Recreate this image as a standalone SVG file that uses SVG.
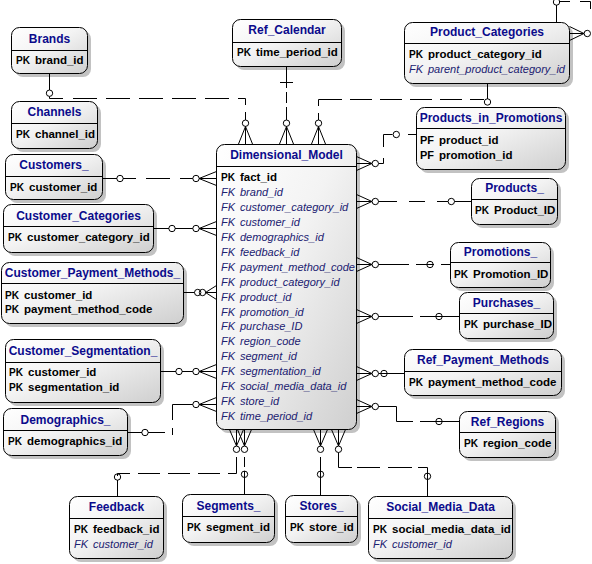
<svg xmlns="http://www.w3.org/2000/svg" width="592" height="564" viewBox="0 0 592 564">
<defs>
<linearGradient id="g" x1="0" y1="0" x2="1" y2="1">
<stop offset="0" stop-color="#ffffff"/>
<stop offset="0.45" stop-color="#f3f3f3"/>
<stop offset="1" stop-color="#cfcfcf"/>
</linearGradient>
</defs>
<style>
.sh{fill:#c2c2c2}
.box{fill:url(#g);stroke:#000;stroke-width:1}
.sep{stroke:#000;stroke-width:1;fill:none}
.t{font-family:"Liberation Sans",Arial,sans-serif;font-weight:bold;font-size:12px;fill:#0b0b8c;text-anchor:middle}
.pk{font-family:"Liberation Sans",Arial,sans-serif;font-weight:bold;font-size:11.5px;fill:#000}
.fk{font-family:"Liberation Sans",Arial,sans-serif;font-style:italic;font-size:11px;fill:#202070}
.ln{stroke:#000;stroke-width:1;fill:none}
.c{fill:#fff;stroke:#000;stroke-width:1}
.o{fill:none;stroke:#000;stroke-width:1}
</style>
<rect width="592" height="564" fill="#fff"/>

<g id="brands">
<rect class="sh" x="15" y="31" width="76" height="46" rx="8"/>
<rect class="box" x="11.5" y="27.5" width="76" height="46" rx="8"/>
<path class="sep" d="M11.5 50.5H87.5"/>
<text class="t" x="49.5" y="43.3">Brands</text>
<text class="pk" x="16" y="64" textLength="14" lengthAdjust="spacingAndGlyphs">PK</text><text class="pk" x="35" y="64">brand_id</text>
</g>

<g id="ref_calendar">
<rect class="sh" x="236" y="23" width="109" height="47" rx="8"/>
<rect class="box" x="232.5" y="19.5" width="109" height="47" rx="8"/>
<path class="sep" d="M232.5 42.5H341.5"/>
<text class="t" x="287" y="34.3">Ref_Calendar</text>
<text class="pk" x="237" y="56" textLength="14" lengthAdjust="spacingAndGlyphs">PK</text><text class="pk" x="256" y="56">time_period_id</text>
</g>

<g id="channels">
<rect class="sh" x="15" y="105" width="86" height="47" rx="8"/>
<rect class="box" x="11.5" y="101.5" width="86" height="47" rx="8"/>
<path class="sep" d="M11.5 123.5H97.5"/>
<text class="t" x="54.5" y="116.3">Channels</text>
<text class="pk" x="16" y="138" textLength="14" lengthAdjust="spacingAndGlyphs">PK</text><text class="pk" x="35" y="138">channel_id</text>
</g>

<g id="customers">
<rect class="sh" x="9" y="158" width="97" height="45" rx="8"/>
<rect class="box" x="5.5" y="154.5" width="97" height="45" rx="8"/>
<path class="sep" d="M5.5 176.5H102.5"/>
<text class="t" x="54" y="169.3">Customers_</text>
<text class="pk" x="10" y="191" textLength="14" lengthAdjust="spacingAndGlyphs">PK</text><text class="pk" x="29" y="191">customer_id</text>
</g>

<g id="customer_categories">
<rect class="sh" x="7" y="208" width="150" height="48" rx="8"/>
<rect class="box" x="3.5" y="204.5" width="150" height="48" rx="8"/>
<path class="sep" d="M3.5 226.5H153.5"/>
<text class="t" x="78.5" y="220.3">Customer_Categories</text>
<text class="pk" x="8" y="241" textLength="14" lengthAdjust="spacingAndGlyphs">PK</text><text class="pk" x="27" y="241">customer_category_id</text>
</g>

<g id="customer_payment_methods">
<rect class="sh" x="5" y="266" width="182" height="61" rx="8"/>
<rect class="box" x="1.5" y="262.5" width="182" height="61" rx="8"/>
<path class="sep" d="M1.5 283.5H183.5"/>
<text class="t" x="92.5" y="277.3">Customer_Payment_Methods_</text>
<text class="pk" x="5" y="299" textLength="14" lengthAdjust="spacingAndGlyphs">PK</text><text class="pk" x="24" y="299">customer_id</text>
<text class="pk" x="5" y="313" textLength="14" lengthAdjust="spacingAndGlyphs">PK</text><text class="pk" x="24" y="313">payment_method_code</text>
</g>

<g id="customer_segmentation">
<rect class="sh" x="9" y="343" width="155" height="63" rx="8"/>
<rect class="box" x="5.5" y="339.5" width="155" height="63" rx="8"/>
<path class="sep" d="M5.5 362.5H160.5"/>
<text class="t" x="83" y="355.3">Customer_Segmentation_</text>
<text class="pk" x="9" y="376" textLength="14" lengthAdjust="spacingAndGlyphs">PK</text><text class="pk" x="28" y="376">customer_id</text>
<text class="pk" x="9" y="391" textLength="14" lengthAdjust="spacingAndGlyphs">PK</text><text class="pk" x="28" y="391">segmentation_id</text>
</g>

<g id="demographics">
<rect class="sh" x="7" y="412" width="124" height="47" rx="8"/>
<rect class="box" x="3.5" y="408.5" width="124" height="47" rx="8"/>
<path class="sep" d="M3.5 430.5H127.5"/>
<text class="t" x="65.5" y="424.3">Demographics_</text>
<text class="pk" x="8" y="445" textLength="14" lengthAdjust="spacingAndGlyphs">PK</text><text class="pk" x="27" y="445">demographics_id</text>
</g>

<g id="feedback">
<rect class="sh" x="73" y="500" width="94" height="62" rx="8"/>
<rect class="box" x="69.5" y="496.5" width="94" height="62" rx="8"/>
<path class="sep" d="M69.5 518.5H163.5"/>
<text class="t" x="116.5" y="511.3">Feedback</text>
<text class="pk" x="74" y="533" textLength="14" lengthAdjust="spacingAndGlyphs">PK</text><text class="pk" x="93" y="533">feedback_id</text>
<text class="fk" x="74" y="548">FK</text><text class="fk" x="93" y="548">customer_id</text>
</g>

<g id="segments">
<rect class="sh" x="186" y="498" width="92" height="48" rx="8"/>
<rect class="box" x="182.5" y="494.5" width="92" height="48" rx="8"/>
<path class="sep" d="M182.5 516.5H274.5"/>
<text class="t" x="228.5" y="510.3">Segments_</text>
<text class="pk" x="187" y="531" textLength="14" lengthAdjust="spacingAndGlyphs">PK</text><text class="pk" x="206" y="531">segment_id</text>
</g>

<g id="stores">
<rect class="sh" x="289" y="499" width="72" height="47" rx="8"/>
<rect class="box" x="285.5" y="495.5" width="72" height="47" rx="8"/>
<path class="sep" d="M285.5 516.5H357.5"/>
<text class="t" x="321.5" y="510.3">Stores_</text>
<text class="pk" x="290" y="531" textLength="14" lengthAdjust="spacingAndGlyphs">PK</text><text class="pk" x="309" y="531">store_id</text>
</g>

<g id="social_media_data">
<rect class="sh" x="372" y="500" width="144" height="62" rx="8"/>
<rect class="box" x="368.5" y="496.5" width="144" height="62" rx="8"/>
<path class="sep" d="M368.5 518.5H512.5"/>
<text class="t" x="440.5" y="511.3">Social_Media_Data</text>
<text class="pk" x="373" y="533" textLength="14" lengthAdjust="spacingAndGlyphs">PK</text><text class="pk" x="392" y="533">social_media_data_id</text>
<text class="fk" x="373" y="548">FK</text><text class="fk" x="392" y="548">customer_id</text>
</g>

<g id="ref_regions">
<rect class="sh" x="463" y="415" width="96" height="46" rx="8"/>
<rect class="box" x="459.5" y="411.5" width="96" height="46" rx="8"/>
<path class="sep" d="M459.5 432.5H555.5"/>
<text class="t" x="507.5" y="426.3">Ref_Regions</text>
<text class="pk" x="464" y="447" textLength="14" lengthAdjust="spacingAndGlyphs">PK</text><text class="pk" x="483" y="447">region_code</text>
</g>

<g id="ref_payment_methods">
<rect class="sh" x="408" y="353" width="157" height="46" rx="8"/>
<rect class="box" x="404.5" y="349.5" width="157" height="46" rx="8"/>
<path class="sep" d="M404.5 371.5H561.5"/>
<text class="t" x="483" y="364.3">Ref_Payment_Methods</text>
<text class="pk" x="409" y="386" textLength="14" lengthAdjust="spacingAndGlyphs">PK</text><text class="pk" x="428" y="386">payment_method_code</text>
</g>

<g id="purchases">
<rect class="sh" x="463" y="296" width="94" height="46" rx="8"/>
<rect class="box" x="459.5" y="292.5" width="94" height="46" rx="8"/>
<path class="sep" d="M459.5 313.5H553.5"/>
<text class="t" x="506.5" y="307.3">Purchases_</text>
<text class="pk" x="464" y="328" textLength="14" lengthAdjust="spacingAndGlyphs">PK</text><text class="pk" x="483" y="328">purchase_ID</text>
</g>

<g id="promotions">
<rect class="sh" x="454" y="246" width="100" height="45" rx="8"/>
<rect class="box" x="450.5" y="242.5" width="100" height="45" rx="8"/>
<path class="sep" d="M450.5 262.5H550.5"/>
<text class="t" x="500.5" y="256.3">Promotions_</text>
<text class="pk" x="454" y="278" textLength="14" lengthAdjust="spacingAndGlyphs">PK</text><text class="pk" x="473" y="278">Promotion_ID</text>
</g>

<g id="products">
<rect class="sh" x="475" y="182" width="86" height="46" rx="8"/>
<rect class="box" x="471.5" y="178.5" width="86" height="46" rx="8"/>
<path class="sep" d="M471.5 199.5H557.5"/>
<text class="t" x="514.5" y="192.3">Products_</text>
<text class="pk" x="475" y="214" textLength="14" lengthAdjust="spacingAndGlyphs">PK</text><text class="pk" x="494" y="214">Product_ID</text>
</g>

<g id="products_in_promotions">
<rect class="sh" x="420" y="111" width="149" height="62" rx="8"/>
<rect class="box" x="416.5" y="107.5" width="149" height="62" rx="8"/>
<path class="sep" d="M416.5 128.5H565.5"/>
<text class="t" x="491" y="122.3">Products_in_Promotions</text>
<text class="pk" x="420" y="144" textLength="14" lengthAdjust="spacingAndGlyphs">PF</text><text class="pk" x="439" y="144">product_id</text>
<text class="pk" x="420" y="159" textLength="14" lengthAdjust="spacingAndGlyphs">PF</text><text class="pk" x="439" y="159">promotion_id</text>
</g>

<g id="product_categories">
<rect class="sh" x="408" y="26" width="165" height="61" rx="8"/>
<rect class="box" x="404.5" y="22.5" width="165" height="61" rx="8"/>
<path class="sep" d="M404.5 43.5H569.5"/>
<text class="t" x="487" y="36.3">Product_Categories</text>
<text class="pk" x="409" y="58" textLength="14" lengthAdjust="spacingAndGlyphs">PK</text><text class="pk" x="428" y="58">product_category_id</text>
<text class="fk" x="409" y="73">FK</text><text class="fk" x="428" y="73">parent_product_category_id</text>
</g>

<g id="dimensional_model">
<rect class="sh" x="220" y="148" width="140" height="285" rx="8"/>
<rect class="box" x="216.5" y="144.5" width="140" height="285" rx="8"/>
<path class="sep" d="M216.5 166.5H356.5"/>
<text class="t" x="286.5" y="159.3">Dimensional_Model</text>
<text class="pk" x="221" y="181" textLength="14" lengthAdjust="spacingAndGlyphs">PK</text><text class="pk" x="240" y="181">fact_id</text>
<text class="fk" x="221" y="196">FK</text><text class="fk" x="240" y="196">brand_id</text>
<text class="fk" x="221" y="211">FK</text><text class="fk" x="240" y="211">customer_category_id</text>
<text class="fk" x="221" y="226">FK</text><text class="fk" x="240" y="226">customer_id</text>
<text class="fk" x="221" y="241">FK</text><text class="fk" x="240" y="241">demographics_id</text>
<text class="fk" x="221" y="256">FK</text><text class="fk" x="240" y="256">feedback_id</text>
<text class="fk" x="221" y="271">FK</text><text class="fk" x="240" y="271">payment_method_code</text>
<text class="fk" x="221" y="286">FK</text><text class="fk" x="240" y="286">product_category_id</text>
<text class="fk" x="221" y="300.5">FK</text><text class="fk" x="240" y="300.5">product_id</text>
<text class="fk" x="221" y="315.5">FK</text><text class="fk" x="240" y="315.5">promotion_id</text>
<text class="fk" x="221" y="330.4">FK</text><text class="fk" x="240" y="330.4">purchase_ID</text>
<text class="fk" x="221" y="345.3">FK</text><text class="fk" x="240" y="345.3">region_code</text>
<text class="fk" x="221" y="360.3">FK</text><text class="fk" x="240" y="360.3">segment_id</text>
<text class="fk" x="221" y="375.2">FK</text><text class="fk" x="240" y="375.2">segmentation_id</text>
<text class="fk" x="221" y="390.2">FK</text><text class="fk" x="240" y="390.2">social_media_data_id</text>
<text class="fk" x="221" y="405.1">FK</text><text class="fk" x="240" y="405.1">store_id</text>
<text class="fk" x="221" y="420">FK</text><text class="fk" x="240" y="420">time_period_id</text>
</g>

<g id="connectors">
<!-- Brands -->
<path class="ln" d="M49.5 73.5V90"/>
<circle class="o" cx="49.5" cy="93.2" r="3.2"/>
<path class="ln" d="M49.5 96.5V98.5H63 M73 98.5H97 M106 98.5H130 M139 98.5H163 M172 98.5H196 M205 98.5H229 M238 98.5H245.5V105 M245.5 112V120"/>
<circle class="c" cx="245.5" cy="123.2" r="3.2"/>
<path class="ln" d="M238.5 144L245.5 126.5L252.5 144M245.5 126.5V144"/>
<!-- Ref_Calendar -->
<path class="ln" d="M286.5 66.5V88 M280 82.5H293 M286.5 92V103 M286.5 107V120"/>
<circle class="c" cx="286.5" cy="123.2" r="3.2"/>
<path class="ln" d="M279.5 144L286.5 126.5L293.5 144M286.5 126.5V144"/>
<!-- Product_Categories -->
<path class="ln" d="M487.5 83.5V99"/>
<circle class="o" cx="487.5" cy="102" r="3.2"/>
<path class="ln" d="M484 99.5H470 M462 99.5H440 M432 99.5H410 M402 99.5H380 M372 99.5H350 M342 99.5H320 M318.5 99.5V106 M318.5 113V120 M318.5 99.5H326"/>
<circle class="c" cx="318.5" cy="123.2" r="3.2"/>
<path class="ln" d="M311.5 144L318.5 126.5L325.5 144M318.5 126.5V144"/>
<!-- Products_in_Promotions -->
<path class="ln" d="M416 134.5H408"/>
<circle class="o" cx="396.3" cy="134.5" r="3.2"/>
<path class="ln" d="M392.5 134.5H383.5V147 M383.5 158V163.5H378.5"/>
<circle class="c" cx="375.3" cy="163.5" r="3.2"/>
<path class="ln" d="M356.5 156.5L372 163.5L356.5 170.5M356.5 163.5H372"/>
<!-- Customers_ -->
<path class="ln" d="M102.5 178.5H117"/>
<circle class="o" cx="120" cy="178.5" r="3.2"/>
<path class="ln" d="M123 178.5H136 M146 178.5H170 M180 178.5H193"/>
<circle class="c" cx="196" cy="178.5" r="3.2"/>
<path class="ln" d="M216.5 171.5L199 178.5L216.5 185.5M199 178.5H216.5"/>
<!-- Products_ -->
<circle class="c" cx="375.3" cy="201.5" r="3.2"/>
<path class="ln" d="M356.5 194.5L372 201.5L356.5 208.5M356.5 201.5H372"/>
<path class="ln" d="M378.5 201.5H397 M409 201.5H425 M437 201.5H448 M454.5 201.5H471"/>
<circle class="o" cx="451.3" cy="201.5" r="3.2"/>
<!-- Customer_Categories -->
<path class="ln" d="M153.5 228.5H169 M175 228.5H193"/>
<circle class="o" cx="172" cy="228.5" r="3.2"/>
<circle class="c" cx="196" cy="228.5" r="3.2"/>
<path class="ln" d="M216.5 221.5L199 228.5L216.5 235.5M199 228.5H216.5"/>
<!-- Promotions_ -->
<circle class="c" cx="375.3" cy="264.5" r="3.2"/>
<path class="ln" d="M356.5 257.5L372 264.5L356.5 271.5M356.5 264.5H372"/>
<path class="ln" d="M378.5 264.5H409 M416 264.5H434 M441 264.5H450"/>
<circle class="o" cx="430" cy="264.5" r="3.2"/>
<!-- Customer_Payment_Methods_ -->
<path class="ln" d="M183.5 292.5H194.5"/>
<circle class="o" cx="197.7" cy="292.5" r="3.2"/>
<circle class="o" cx="202.5" cy="292.5" r="3.2"/>
<path class="ln" d="M216.5 285.5L205.5 292.5L216.5 299.5M205.5 292.5H216.5"/>
<!-- Purchases_ -->
<circle class="c" cx="375.3" cy="316.5" r="3.2"/>
<path class="ln" d="M356.5 309.5L372 316.5L356.5 323.5M356.5 316.5H372"/>
<path class="ln" d="M378.5 316.5H413 M420 316.5H459"/>
<circle class="o" cx="439" cy="316.5" r="3.2"/>
<!-- Customer_Segmentation_ -->
<path class="ln" d="M160.5 371.5H176 M182 371.5H193"/>
<circle class="o" cx="179" cy="371.5" r="3.2"/>
<circle class="c" cx="196" cy="371.5" r="3.2"/>
<path class="ln" d="M216.5 364.5L199 371.5L216.5 378.5M199 371.5H216.5"/>
<!-- Ref_Payment_Methods -->
<path class="ln" d="M356.5 366.5L372 373.5L356.5 380.5M356.5 373.5H372"/>
<path class="ln" d="M378.5 373.5H404"/>
<circle class="c" cx="375.3" cy="373.5" r="3.2"/>
<circle class="o" cx="384" cy="373.5" r="3.2"/>
<!-- Demographics_ -->
<path class="ln" d="M127.5 432.5H142 M148 432.5H165 M172.5 435V428 M172.5 420V404.5H193"/>
<circle class="o" cx="145" cy="432.5" r="3.2"/>
<circle class="c" cx="196" cy="404.5" r="3.2"/>
<path class="ln" d="M216.5 397.5L199 404.5L216.5 411.5M199 404.5H216.5"/>
<!-- Ref_Regions -->
<circle class="c" cx="375.3" cy="406.5" r="3.2"/>
<path class="ln" d="M356.5 399.5L372 406.5L356.5 413.5M356.5 406.5H372"/>
<path class="ln" d="M378.5 406.5H396.5V421.5H413 M420 421.5H459"/>
<circle class="o" cx="439" cy="421.5" r="3.2"/>
<!-- Feedback -->
<path class="ln" d="M229.5 429.5L236.5 446L243.5 429.5M236.5 429.5V446"/>
<circle class="c" cx="236.5" cy="449.3" r="3.2"/>
<path class="ln" d="M236.5 457V473.5H228 M220 473.5H198 M190 473.5H168 M160 473.5H138 M130 473.5H117.5V476"/>
<circle class="o" cx="117.5" cy="477" r="3.2"/>
<path class="ln" d="M117.5 480V496"/>
<!-- Segments_ -->
<path class="ln" d="M237.5 429.5L244.5 446L251.5 429.5M244.5 429.5V446"/>
<circle class="c" cx="244.5" cy="449.3" r="3.2"/>
<path class="ln" d="M244.5 457V467 M244.5 471V494"/>
<circle class="o" cx="244.5" cy="474.3" r="3.2"/>
<!-- Stores_ -->
<path class="ln" d="M313.5 429.5L320.5 446L327.5 429.5M320.5 429.5V446"/>
<circle class="c" cx="320.5" cy="449.3" r="3.2"/>
<path class="ln" d="M320.5 457V495"/>
<circle class="o" cx="320.5" cy="474.3" r="3.2"/>
<!-- Social_Media_Data -->
<path class="ln" d="M331.5 429.5L338.5 446L345.5 429.5M338.5 429.5V446"/>
<circle class="c" cx="338.5" cy="449.3" r="3.2"/>
<path class="ln" d="M338.5 452.5V467.5H352 M357 467.5H380 M388 467.5H412 M418 467.5H427.5V496"/>
<circle class="o" cx="427.5" cy="476.3" r="3.2"/>
<!-- Product_Categories self -->
<path class="ln" d="M569.5 26.5L584 33.5L569.5 40.5M569.5 33.5H584"/>
<circle class="c" cx="587.3" cy="33.5" r="3.2"/>
<path class="ln" d="M556.5 22V5 M559 1.5H570 M580 1.5H590.5V9"/>
<circle class="o" cx="556.5" cy="2" r="3.2"/>
</g>
</svg>
